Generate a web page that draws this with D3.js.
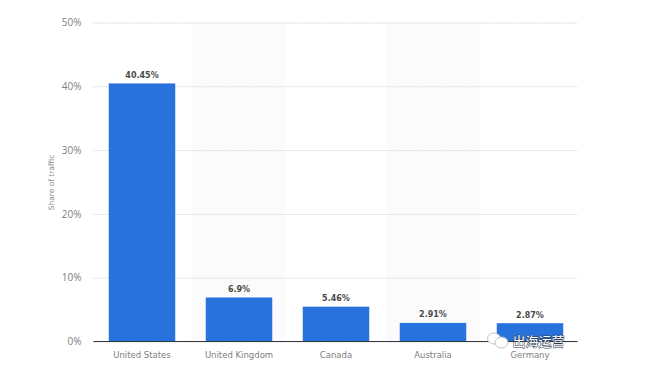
<!DOCTYPE html>
<html>
<head>
<meta charset="utf-8">
<script src="https://cdn.jsdelivr.net/npm/d3@7"></script>
<style>
  html, body { margin: 0; padding: 0; background: #fff; }
  svg { display: block; }
  text { font-family: "DejaVu Sans", sans-serif; }
</style>
</head>
<body>
<svg id="chart" width="660" height="378"></svg>
<script>
let width = 660,
  height = 378,
  margin = { top: 22.5, right: 81.5, bottom: 36.5, left: 93.5 }

const countries = ["United States", "United Kingdom", "Canada", "Australia", "Germany"]
const shares = [40.45, 6.9, 5.46, 2.91, 2.87]
const shareLabels = ["40.45%", "6.9%", "5.46%", "2.91%", "2.87%"]
const yTicks = [0, 10, 20, 30, 40, 50]
const stripedCountries = ["United Kingdom", "Australia"]

let scales = {
  x: d3.scaleBand()
    .domain(countries)
    .range([margin.left, width - margin.right])
    .paddingInner(0)
    .paddingOuter(0),
  y: d3.scaleLinear()
    .domain([0, 50])
    .range([height - margin.bottom, margin.top])
}

let svg = d3.select("#chart")
const axisEnd = 577.5

// alternating background columns
svg.append("g")
  .selectAll("rect")
  .data(stripedCountries)
  .enter()
  .append("rect")
  .attr("x", d => scales.x(d) + 1)
  .attr("width", scales.x.bandwidth() - 3)
  .attr("y", scales.y(50))
  .attr("height", scales.y(0) - scales.y(50))
  .attr("fill", "#fbfbfb")

// y axis with dashed grid lines
let yAxis = svg.append("g")
  .attr("transform", `translate(${margin.left}, 0)`)
  .call(d3.axisLeft(scales.y)
    .tickValues(yTicks)
    .tickFormat(d => d + "%")
    .tickSize(-(axisEnd - margin.left))
    .tickPadding(12))

yAxis.select(".domain").remove()
yAxis.selectAll("line")
  .attr("stroke", "#dcdcdc")
  .attr("stroke-width", 1)
  .attr("stroke-dasharray", "2,1")
yAxis.selectAll("text")
  .attr("fill", "#808080")
  .attr("font-size", 10)
  .style("font-family", '"Open Sans", sans-serif')

// bars
const barWidth = 66.5
svg.append("g")
  .selectAll("rect")
  .data(shares)
  .enter()
  .append("rect")
  .attr("x", (d, i) => scales.x(countries[i]) + (scales.x.bandwidth() - barWidth) / 2)
  .attr("width", barWidth)
  .attr("y", d => scales.y(d))
  .attr("height", d => scales.y(0) - scales.y(d))
  .attr("fill", "#2872dc")

// value labels
svg.append("g")
  .selectAll("text")
  .data(shares)
  .enter()
  .append("text")
  .attr("x", (d, i) => scales.x(countries[i]) + scales.x.bandwidth() / 2)
  .attr("y", d => scales.y(d) - 5.5)
  .attr("text-anchor", "middle")
  .attr("font-size", 8)
  .attr("font-weight", "bold")
  .attr("fill", "#4a4a4a")
  .text((d, i) => shareLabels[i])

// x axis
let xAxis = svg.append("g")
  .attr("transform", `translate(0, ${scales.y(0)})`)
  .call(d3.axisBottom(scales.x).tickSize(0).tickPadding(10))

xAxis.select(".domain").remove()
xAxis.selectAll("text")
  .attr("fill", "#808080")
  .attr("font-size", 8.5)
xAxis.append("line")
  .attr("x1", margin.left)
  .attr("x2", axisEnd)
  .attr("stroke", "#33383f")

// y axis title
svg.append("text")
  .attr("transform", "translate(53.5, 182.5) rotate(-90)")
  .attr("text-anchor", "middle")
  .attr("font-size", 7.5)
  .attr("fill", "#8c8c8c")
  .text("Share of traffic")

// watermark icon
let mark = svg.append("g")
  .attr("fill", "#fff")
  .attr("stroke", "#b5b5b5")
  .attr("stroke-width", 0.8)
mark.append("ellipse").attr("cx", 494).attr("cy", 338.5).attr("rx", 6.5).attr("ry", 5.5)
mark.append("ellipse").attr("cx", 501.5).attr("cy", 342.5).attr("rx", 6.5).attr("ry", 5.5)

svg.append("text")
  .attr("x", 512.5)
  .attr("y", 345.5)
  .attr("font-size", 13)
  .attr("fill", "#fff")
  .attr("stroke", "#2f3c50")
  .attr("stroke-width", 1)
  .attr("paint-order", "stroke")
  .style("font-family", '"Noto Sans CJK SC", sans-serif')
  .text("出海运营")
</script>
</body>
</html>
